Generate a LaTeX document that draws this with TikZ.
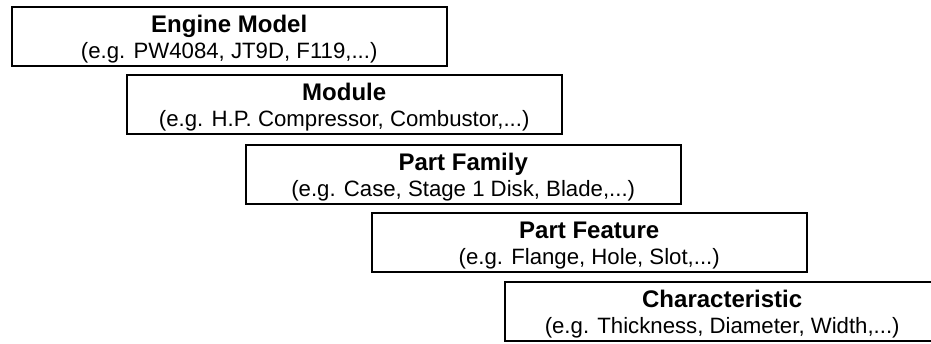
\documentclass[tikz,border=0pt]{standalone}
\usepackage{fontspec}
\setmainfont{Liberation Sans}
\usetikzlibrary{shadows}
\newcommand{\layertext}[2]{{\bfseries\fontsize{24}{26}\selectfont\rule{0pt}{24pt}#1}\\#2}
\tikzset{
  layer/.style={draw, line width=1.8pt, fill=white, rectangle, anchor=north west,
    minimum width=435pt, minimum height=59pt, align=center, inner sep=0pt,
    font=\fontsize{22.2}{26}\selectfont,
    drop shadow={shadow xshift=1.7pt, shadow yshift=-1.7pt, fill=black, opacity=1}}
}

\begin{document}
\begin{tikzpicture}[x=1pt,y=-1pt]
    \useasboundingbox (0,0) rectangle (931,343);
    \node[layer] (engine) at (10.8,5.8) {\layertext{Engine Model}{(e.g. PW4084, JT9D, F119,...)}};
    \node[layer] (module) at (125.8,73.8) {\layertext{Module}{(e.g. H.P. Compressor, Combustor,...)}};
    \node[layer] (family) at (244.8,143.8) {\layertext{Part Family}{(e.g. Case, Stage 1 Disk, Blade,...)}};
    \node[layer] (feature) at (370.8,211.8) {\layertext{Part Feature}{(e.g. Flange, Hole, Slot,...)}};
    \node[layer] (charac) at (503.8,280.8) {\layertext{Characteristic}{(e.g. Thickness, Diameter, Width,...)}};
  \end{tikzpicture}
\end{document}
